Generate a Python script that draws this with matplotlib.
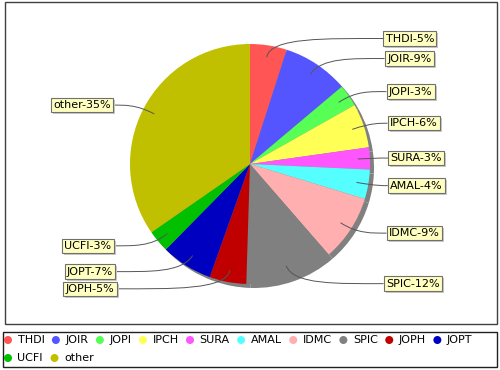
import matplotlib
matplotlib.use('Agg')
import matplotlib.pyplot as plt
import numpy as np
from matplotlib.patches import Rectangle, Circle, PathPatch
from matplotlib.path import Path

categories = ['THDI', 'JOIR', 'JOPI', 'IPCH', 'SURA', 'AMAL', 'IDMC', 'SPIC', 'JOPH', 'JOPT', 'UCFI', 'other']
values = [5, 9, 3, 6, 3, 4, 9, 12, 5, 7, 3, 35]
colors = ['#FF5555', '#5555FF', '#55FF55', '#FFFF55', '#FF55FF', '#55FFFF',
          '#FFAFAF', '#808080', '#C00000', '#0000C0', '#00C000', '#C0C000']

W, H = 500, 370
fig = plt.figure(figsize=(5, 3.7), dpi=100)
ax = fig.add_axes([0, 0, 1, 1])


def py(y):
    return H - y


cx, cy, r = 250, py(164), 120

# plot border
ax.add_patch(Rectangle((5, py(324)), 492, 322, fill=False, ec='#404040', lw=1.0, zorder=0))

# shadow + pie
ax.pie(values, colors=['#808080'] * len(values), center=(cx + 4, cy - 4), radius=r,
       startangle=90, counterclock=False, wedgeprops=dict(lw=0))
ax.pie(values, colors=colors, center=(cx, cy), radius=r,
       startangle=90, counterclock=False, wedgeprops=dict(lw=0))
ax.set_xlim(0, W)
ax.set_ylim(0, H)
ax.set_aspect('auto')
ax.axis('off')

total = float(sum(values))
fr = np.array(values) / total
cum = np.cumsum(fr)
mids = (cum - fr / 2) * 2 * np.pi

fig.canvas.draw()
renderer = fig.canvas.get_renderer()
inv = ax.transData.inverted()

fs = 8
for name, v, m in zip(categories, values, mids):
    s, c = np.sin(m), np.cos(m)
    ly = cy + 127 * c
    label = f'{name}-{v}%'
    if s >= 0:
        ex = 383 + 5 * s * s
        tx, ha = ex + 2.5, 'left'
    else:
        ex = 117 - 5 * s * s
        tx, ha = ex - 2.5, 'right'
    bb = dict(boxstyle='square,pad=0.2', fc='#FFFFC0', ec='#707070', lw=0.8)
    t = ax.text(tx, ly, label, ha=ha, va='center', fontsize=fs, color='black',
                bbox=bb, zorder=5)
    fig.canvas.draw()
    ext = t.get_bbox_patch().get_window_extent(renderer)
    (x0, y0), (x1, y1) = inv.transform([(ext.x0, ext.y0), (ext.x1, ext.y1)])
    ax.add_patch(Rectangle((x0 + 2, y0 - 2), x1 - x0, y1 - y0, fc='#C8C8C8', ec='none', zorder=4))
    p0 = (cx + 0.9 * r * s, cy + 0.9 * r * c)
    p1 = (cx + 1.07 * r * s, cy + 1.07 * r * c)
    p2 = (ex - 0.5 * (ex - p1[0]), ly)
    path = Path([p0, p1, p2, (ex, ly)], [Path.MOVETO, Path.CURVE4, Path.CURVE4, Path.CURVE4])
    ax.add_patch(PathPatch(path, fc='none', ec='#555555', lw=0.7, zorder=3))

# legend
ax.add_patch(Rectangle((3, py(367)), 494, 35, fill=False, ec='#202020', lw=1.0))
x = 8
row_y = [py(340), py(358)]
row = 0
for name, col in zip(categories, colors):
    t = ax.text(0, 0, name, fontsize=fs)
    w = t.get_window_extent(renderer).width
    t.remove()
    if x + 10 + w > 494:
        row += 1
        x = 8
    ax.add_patch(Circle((x, row_y[row]), 4, fc=col, ec='none'))
    ax.text(x + 9.5, row_y[row], name, fontsize=fs, ha='left', va='center')
    x = x + 9.5 + w + 11.5

fig.savefig('out.png', dpi=100)
